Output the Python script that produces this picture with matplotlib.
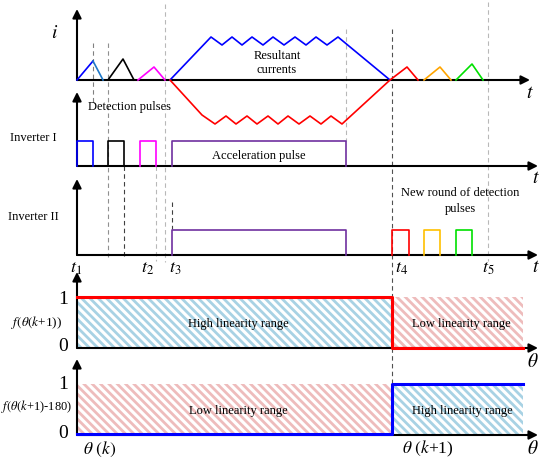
import numpy as np
import matplotlib
matplotlib.use('Agg')
import matplotlib.pyplot as plt
from matplotlib.patches import Rectangle

plt.rcParams['font.family'] = ['Liberation Serif', 'DejaVu Serif']
plt.rcParams['mathtext.fontset'] = 'stix'
plt.rcParams['hatch.linewidth'] = 2.0

# --- panel baselines (y) and time axis start ---
x0 = 77
base_i, base_inv1, base_inv2, base_f1, base_f2 = 81, 167, 256, 349, 436

# time marks (horizontal positions of the events)
t_labels = ['$t_1$', '$t_2$', '$t_3$', '$t_4$', '$t_5$']
t_label_x = [76, 148, 175, 402, 488]
t_switch = 392  # t4 / theta(k+1)
t_end = 523

# detection current triangles: (start, peak, end, height, colour)
det_first = [(77, 93, 103, 19, 'blue'), (108, 123, 134, 21, 'black'),
             (138, 154, 165, 13, 'magenta')]
det_second = [(424, 440, 451, 13, '#ffa500'), (456, 472, 483, 16, '#00e000')]

# resultant current (blue, positive) vertices
blue_t = [170, 211, 222, 232, 242, 252, 263, 273, 284, 295, 306, 316, 327, 338, 390]
blue_i = [0, 43, 35, 43, 35, 43, 35, 43, 35, 43, 35, 43, 35, 43, 0]
# resultant current (red, negative) then first new detection triangle
red_t = [170, 202, 215, 226, 236, 247, 257, 268, 278, 288, 299, 310, 321, 331, 342, 390, 407, 418]
red_i = [0, -35, -44, -36, -44, -36, -44, -36, -44, -36, -44, -36, -44, -36, -44, 0, 13, 0]

# gate pulses: (start, end, colour)
pulse_h = 25
inv1_pulses = [(77, 93, 'blue'), (108, 124, 'black'), (140, 156, 'magenta'),
               (172, 346, '#7030a0')]
inv2_pulses = [(172, 346, '#7030a0'), (392, 409, 'red'), (424, 440, '#ffc000'),
               (456, 472, '#00e000')]

# dashed guide lines: (x, y_top, y_bottom, colour)
guides = [(93, 44, 103, '#808080'), (108, 44, 258, '#909090'), (124, 167, 258, '#404040'),
          (156, 167, 262, '#b8b8b8'), (165, 5, 263, '#b8b8b8'), (172, 203, 230, '#404040'),
          (346, 30, 142, '#b8b8b8'), (392, 30, 384, '#505050'), (488, 3, 262, '#b8b8b8')]

# linearity functions (0/1 levels)
f_h = 51
f1_level = [1, 0]
f2_level = [0, 1]
hatch_blue = '#a8d2e4'
hatch_red = '#eebcbc'

fig = plt.figure(figsize=(5.41, 4.60), dpi=100)
ax = fig.add_axes([0, 0, 1, 1])
ax.set_xlim(0, 541)
ax.set_ylim(460, 0)
ax.axis('off')


def arrow(x1, y1, x2, y2):
    ax.annotate('', xy=(x2, y2), xytext=(x1, y1),
                arrowprops=dict(arrowstyle='-|>', color='k', lw=1.5,
                                mutation_scale=13, shrinkA=0, shrinkB=0))


# guide lines first (behind)
for gx, gy0, gy1, gc in guides:
    ax.plot([gx, gx], [gy0, gy1], color=gc, lw=0.8, ls=(0, (4, 3)), zorder=1)

# hatched regions of the linearity panels
for base, levels in [(base_f1, f1_level), (base_f2, f2_level)]:
    cols = [hatch_blue, hatch_red] if levels[0] == 1 else [hatch_red, hatch_blue]
    for (xa, xb), c in zip([(x0, t_switch), (t_switch, t_end)], cols):
        ax.add_patch(Rectangle((xa, base - f_h), xb - xa, f_h, facecolor='none',
                               edgecolor=c, lw=0, hatch='\\\\\\\\', zorder=0))

# axes
arrow(x0, base_i, x0, 10)
arrow(x0, base_i, 530, base_i)
arrow(x0, base_inv1, x0, 93)
arrow(x0, base_inv1, 538, base_inv1)
arrow(x0, base_inv2, x0, 180)
arrow(x0, base_inv2, 538, base_inv2)
arrow(x0, base_f1, x0, 273)
arrow(x0, base_f1, 538, base_f1)
arrow(x0, base_f2, x0, 360)
arrow(x0, base_f2, 538, base_f2)

# currents
for k, (ta, tp, tb, h, c) in enumerate(det_first + det_second):
    if k == 0:
        ax.plot([ta, tp], [base_i, base_i - h], color=c, lw=1.2, zorder=3)
        ax.plot([tp, tb], [base_i - h, base_i], color='#1f78c8', lw=1.2, zorder=3)
    else:
        ax.plot([ta, tp, tb], [base_i, base_i - h, base_i], color=c, lw=1.2, zorder=3)
ax.plot(blue_t, base_i - np.array(blue_i), color='blue', lw=1.2, zorder=3)
ax.plot(red_t, base_i - np.array(red_i), color='red', lw=1.2, zorder=3)

# pulses
for base, pulses in [(base_inv1, inv1_pulses), (base_inv2, inv2_pulses)]:
    for pa, pb, c in pulses:
        ax.plot([pa, pa, pb, pb], [base, base - pulse_h, base - pulse_h, base],
                color=c, lw=1.2, zorder=3)

# step functions
ax.plot([x0, t_switch, t_switch, t_end],
        [base_f1 - f_h * f1_level[0], base_f1 - f_h * f1_level[0],
         base_f1 - f_h * f1_level[1], base_f1 - f_h * f1_level[1]],
        color='red', lw=2.2, zorder=4)
ax.plot([x0, t_switch, t_switch, t_end],
        [base_f2 - f_h * f2_level[0] - 1, base_f2 - f_h * f2_level[0] - 1,
         base_f2 - f_h * f2_level[1], base_f2 - f_h * f2_level[1]],
        color='blue', lw=2.2, zorder=4)

# texts
ax.text(55, 33, '$i$', fontsize=14, ha='center', va='center')
ax.text(530, 93, '$t$', fontsize=14, ha='center', va='center')
ax.text(536, 179, '$t$', fontsize=14, ha='center', va='center')
ax.text(536, 268, '$t$', fontsize=14, ha='center', va='center')
ax.text(533, 362, r'$\theta$', fontsize=14, ha='center', va='center')
ax.text(533, 449, r'$\theta$', fontsize=14, ha='center', va='center')
for lab, lx in zip(t_labels, t_label_x):
    ax.text(lx, 269, lab, fontsize=13, ha='center', va='center')

ax.text(277, 56, 'Resultant', fontsize=9, ha='center', va='center')
ax.text(277, 70, 'currents', fontsize=9, ha='center', va='center')
ax.text(130, 107, 'Detection pulses', fontsize=9, ha='center', va='center')
ax.text(33, 138, 'Inverter I', fontsize=9, ha='center', va='center')
ax.text(33, 217, 'Inverter II', fontsize=9, ha='center', va='center')
ax.text(259, 156, 'Acceleration pulse', fontsize=9, ha='center', va='center')
ax.text(460, 193, 'New round of detection', fontsize=9, ha='center', va='center')
ax.text(460, 209, 'pulses', fontsize=9, ha='center', va='center')

ax.text(238, 324, 'High linearity range', fontsize=9, ha='center', va='center')
ax.text(461, 324, 'Low linearity range', fontsize=9, ha='center', va='center')
ax.text(238, 411, 'Low linearity range', fontsize=9, ha='center', va='center')
ax.text(462, 411, 'High linearity range', fontsize=9, ha='center', va='center')

ax.text(63, 300, '1', fontsize=14, ha='center', va='center')
ax.text(63, 347, '0', fontsize=14, ha='center', va='center')
ax.text(63, 385, '1', fontsize=14, ha='center', va='center')
ax.text(63, 434, '0', fontsize=14, ha='center', va='center')
ax.text(37, 323, r'$f(\theta(k$+1))', fontsize=9.5, ha='center', va='center')
ax.text(37, 407, r'$f(\theta(k$+1)-180)', fontsize=9, ha='center', va='center')
ax.text(100, 449, r'$\theta\ (k)$', fontsize=12.5, ha='center', va='center')
ax.text(428, 449, r'$\theta\ (k$+1)', fontsize=12.5, ha='center', va='center')

fig.savefig('out.png', dpi=100)
